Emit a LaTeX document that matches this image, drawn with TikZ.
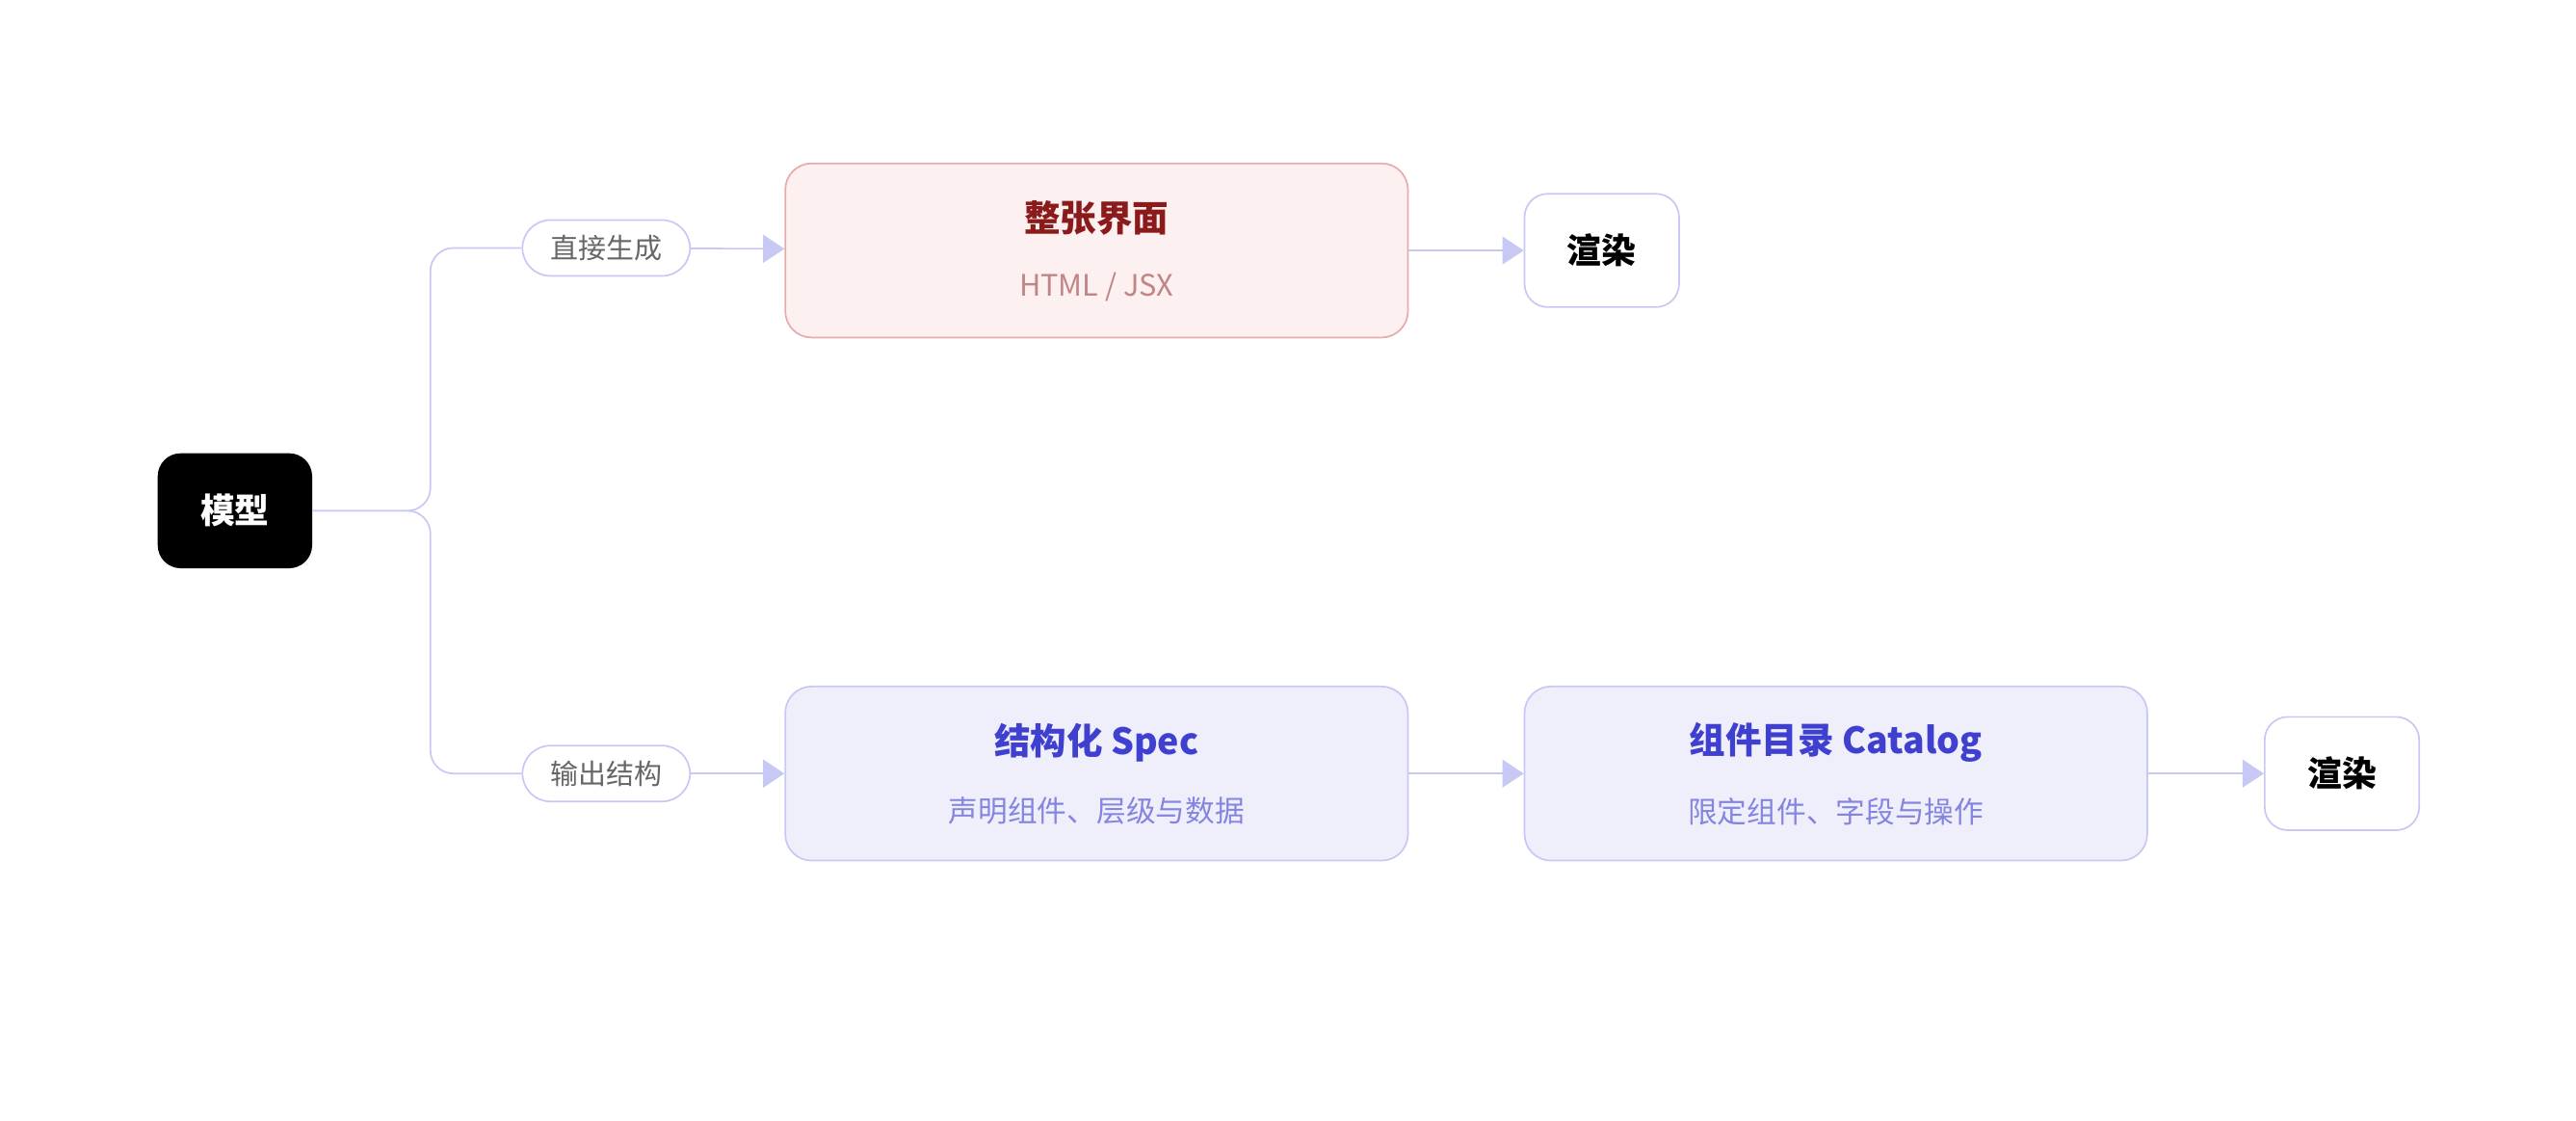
\documentclass[tikz,border=0pt]{standalone}
\usepackage{fontspec}
\setmainfont{Noto Sans CJK SC}
\usetikzlibrary{arrows.meta, positioning}
\definecolor{linec}{HTML}{C8C8F5}
\definecolor{pinkfill}{HTML}{FDF0F0}
\definecolor{pinkdraw}{HTML}{E8ABAB}
\definecolor{pinktitle}{HTML}{8B1A1A}
\definecolor{pinksub}{HTML}{C08585}
\definecolor{bluefill}{HTML}{EFEFFB}
\definecolor{bluetitle}{HTML}{4040D0}
\definecolor{bluesub}{HTML}{8585E0}

\begin{document}
\begin{tikzpicture}[
    x=1pt, y=1pt,
    model/.style={rectangle, rounded corners=14, fill=black, text=white, minimum width=94, minimum height=70, font=\fontsize{21}{24}\selectfont\bfseries},
    render/.style={rectangle, rounded corners=14, draw=linec, fill=white, line width=1, minimum width=94, minimum height=69, font=\fontsize{21}{24}\selectfont\bfseries},
    pill/.style={rectangle, rounded corners=17, draw=linec, fill=white, line width=1, minimum width=102, minimum height=34, text=black!60, font=\fontsize{17}{20}\selectfont},
    card/.style={rectangle, rounded corners=16, line width=1, minimum width=379, minimum height=106},
    pinkcard/.style={card, fill=pinkfill, draw=pinkdraw},
    bluecard/.style={card, fill=bluefill, draw=linec},
    conn/.style={draw=linec, line width=1},
    arrow/.style={conn, -{Triangle[length=13, width=17, fill=linec]}}
]
\useasboundingbox (0,0) rectangle (1568,682);

% Knoten
\node[model] (model) at (143,371) {模型};
\node[pill] (direct) at (369,531) {直接生成};
\node[pill] (output) at (369,211) {输出结构};

\node[pinkcard] (page) at (667.5,529.5) {};
\node[font=\fontsize{22}{26}\selectfont\bfseries, text=pinktitle] (pagetitle) at (667.5,549) {整张界面};
\node[font=\fontsize{18}{22}\selectfont, text=pinksub] (pagesub) at (667.5,507) {HTML / JSX};
\node[render] (render1) at (975,529.5) {渲染};

\node[bluecard] (spec) at (667.5,211) {};
\node[font=\fontsize{22}{26}\selectfont\bfseries, text=bluetitle] (spectitle) at (667.5,230) {结构化 Spec};
\node[font=\fontsize{18}{22}\selectfont, text=bluesub] (specsub) at (667.5,188) {声明组件、层级与数据};

\node[bluecard] (catalog) at (1117.5,211) {};
\node[font=\fontsize{22}{26}\selectfont\bfseries, text=bluetitle] (cattitle) at (1117.5,230) {组件目录 Catalog};
\node[font=\fontsize{18}{22}\selectfont, text=bluesub] (catsub) at (1117.5,188) {限定组件、字段与操作};

\node[render] (render2) at (1425.5,211) {渲染};

\coordinate (split) at (262,371);

% Verbindungen
\draw[conn, rounded corners=14] (model.east) -- (split) |- (direct.west);
\draw[conn, rounded corners=14] (model.east) -- (split) |- (output.west);
\draw[arrow] (direct) -- (page);
\draw[arrow] (page) -- (render1);
\draw[arrow] (output) -- (spec);
\draw[arrow] (spec) -- (catalog);
\draw[arrow] (catalog) -- (render2);
\end{tikzpicture}
\end{document}
